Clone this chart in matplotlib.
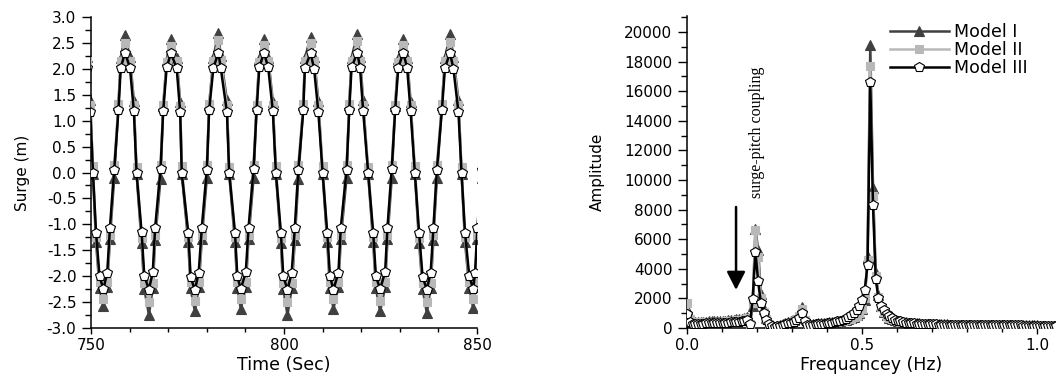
import numpy as np
import matplotlib
matplotlib.use("Agg")
import matplotlib.pyplot as plt
from matplotlib.ticker import MultipleLocator, FormatStrFormatter

plt.rcParams['font.family'] = ['DejaVu Sans']
plt.rcParams['axes.unicode_minus'] = False

# --- surge time history (sample times in s, one row per cycle) ---
surge_time = [
    749.0, 749.8,
    750.5, 751.3, 752.2, 753.2, 754.2, 754.9, 756.0, 757.1, 757.7, 758.8, 760.1, 761.1,
    761.8, 763.1, 763.8, 765.0, 766.0, 766.6, 768.0, 768.7, 769.6, 770.7, 772.2, 773.1,
    773.5, 775.2, 775.8, 776.9, 777.9, 778.7, 780.0, 780.6, 781.7, 783.0, 783.6, 785.2,
    785.8, 787.3, 787.9, 788.8, 790.1, 790.8, 792.1, 792.9, 793.6, 794.8, 795.9, 797.1,
    797.9, 799.2, 799.8, 800.9, 802.0, 802.8, 803.7, 805.0, 805.4, 806.9, 807.8, 808.9,
    810.0, 811.2, 811.9, 812.8, 814.1, 814.7, 816.2, 816.9, 817.5, 819.0, 819.7, 820.5,
    821.8, 823.1, 823.8, 824.9, 826.2, 826.8, 827.9, 828.8, 829.6, 830.9, 831.9, 832.8,
    833.9, 835.0, 835.9, 837.0, 838.0, 838.7, 839.6, 840.9, 841.7, 843.0, 843.9, 845.2,
    846.0, 846.9, 848.0, 849.0, 849.5, 850.1, 851.2,
]

surge_model1 = [
    2.22, 1.40,
    -0.02, -1.35, -2.22, -2.58, -2.20, -1.28, -0.10, 1.30, 2.20, 2.65, 2.22, 1.38,
    -0.03, -1.36, -2.24, -2.75, -2.22, -1.30, -0.12, 1.28, 2.18, 2.57, 2.20, 1.36,
    -0.02, -1.35, -2.23, -2.68, -2.21, -1.29, -0.10, 1.30, 2.21, 2.70, 2.24, 1.40,
    -0.03, -1.34, -2.22, -2.63, -2.20, -1.28, -0.11, 1.29, 2.19, 2.58, 2.21, 1.37,
    -0.02, -1.36, -2.24, -2.75, -2.23, -1.31, -0.12, 1.30, 2.20, 2.62, 2.22, 1.38,
    -0.02, -1.35, -2.22, -2.63, -2.21, -1.29, -0.10, 1.31, 2.21, 2.68, 2.23, 1.39,
    -0.03, -1.35, -2.23, -2.68, -2.21, -1.29, -0.11, 1.29, 2.19, 2.58, 2.20, 1.37,
    -0.02, -1.36, -2.24, -2.71, -2.22, -1.30, -0.10, 1.30, 2.20, 2.67, 2.23, 1.39,
    -0.03, -1.35, -2.22, -2.61, -2.20, -1.28, -0.10,
]

surge_model2 = [
    2.15, 1.30,
    0.12, -1.25, -2.12, -2.44, -2.12, -1.20, 0.15, 1.32, 2.15, 2.50, 2.16, 1.30,
    0.11, -1.26, -2.13, -2.50, -2.13, -1.21, 0.14, 1.31, 2.14, 2.45, 2.15, 1.29,
    0.12, -1.25, -2.12, -2.48, -2.12, -1.20, 0.15, 1.32, 2.16, 2.55, 2.17, 1.31,
    0.11, -1.25, -2.12, -2.45, -2.12, -1.20, 0.14, 1.31, 2.14, 2.46, 2.15, 1.30,
    0.12, -1.26, -2.13, -2.50, -2.13, -1.21, 0.15, 1.32, 2.15, 2.49, 2.16, 1.30,
    0.12, -1.25, -2.12, -2.45, -2.12, -1.20, 0.15, 1.32, 2.16, 2.53, 2.16, 1.31,
    0.11, -1.25, -2.12, -2.48, -2.12, -1.20, 0.14, 1.31, 2.14, 2.46, 2.15, 1.30,
    0.12, -1.26, -2.13, -2.49, -2.13, -1.21, 0.15, 1.32, 2.15, 2.52, 2.16, 1.31,
    0.11, -1.25, -2.12, -2.44, -2.12, -1.20, 0.15,
]

surge_model3 = [
    2.02, 1.17,
    0.00, -1.17, -2.00, -2.25, -1.93, -1.07, 0.05, 1.20, 2.02, 2.31, 2.02, 1.18,
    -0.01, -1.15, -1.99, -2.26, -1.92, -1.08, 0.06, 1.19, 2.03, 2.30, 2.01, 1.16,
    0.00, -1.17, -2.01, -2.27, -1.93, -1.07, 0.05, 1.20, 2.02, 2.31, 2.02, 1.17,
    0.00, -1.16, -2.00, -2.25, -1.92, -1.08, 0.06, 1.21, 2.03, 2.31, 2.03, 1.19,
    -0.01, -1.17, -2.00, -2.26, -1.93, -1.07, 0.05, 1.20, 2.02, 2.30, 2.00, 1.16,
    0.00, -1.17, -2.00, -2.26, -1.93, -1.08, 0.05, 1.20, 2.03, 2.31, 2.02, 1.19,
    0.00, -1.16, -2.00, -2.25, -1.92, -1.07, 0.06, 1.21, 2.02, 2.31, 2.02, 1.18,
    0.00, -1.17, -2.01, -2.26, -1.93, -1.08, 0.05, 1.20, 2.02, 2.31, 2.00, 1.16,
    -0.01, -1.17, -2.00, -2.25, -1.93, -1.07, 0.05,
]

# --- amplitude spectrum, bins of 1/128 Hz ---
freq_step = 1 / 128

fft_model1 = [
    1300, 520, 430, 420, 420, 425, 430, 435, 440, 450,
    455, 465, 475, 485, 500, 515, 530, 550, 575, 600,
    640, 690, 760, 200, 1500, 6700, 5300, 2300, 1250, 650,
    330, 150, 60, 110, 180, 250, 320, 390, 470, 560,
    700, 950, 1450, 650, 250, 220, 260, 290, 310, 330,
    350, 370, 390, 410, 430, 460, 490, 520, 560, 610,
    670, 750, 850, 1000, 1250, 1900, 4800, 19100, 9450, 3700,
    2200, 1500, 1100, 850, 700, 600, 530, 480, 440, 410,
    385, 365, 345, 330, 315, 305, 295, 285, 275, 268,
    262, 256, 250, 245, 240, 236, 232, 228, 224, 220,
    217, 214, 211, 208, 205, 203, 200, 198, 196, 194,
    192, 190, 188, 186, 185, 183, 182, 180, 179, 178,
    176, 175, 174, 173, 172, 171, 170, 169, 168, 167,
    166, 165, 164, 163, 162, 161,
]

fft_model2 = [
    1700, 600, 380, 370, 370, 375, 380, 385, 390, 395,
    400, 410, 420, 430, 440, 455, 470, 490, 510, 535,
    565, 600, 660, 250, 1700, 6650, 4800, 2000, 1100, 600,
    300, 140, 60, 100, 160, 220, 280, 340, 410, 490,
    600, 800, 1250, 560, 230, 200, 230, 260, 280, 300,
    320, 340, 360, 380, 400, 430, 460, 490, 530, 580,
    640, 720, 820, 980, 1250, 2000, 4600, 17700, 8900, 3500,
    2100, 1450, 1080, 840, 690, 590, 520, 470, 430, 400,
    375, 355, 335, 320, 305, 295, 285, 276, 268, 260,
    254, 248, 243, 238, 234, 230, 226, 222, 218, 215,
    212, 209, 206, 203, 200, 198, 196, 194, 192, 190,
    188, 186, 184, 183, 181, 180, 178, 177, 176, 175,
    173, 172, 171, 170, 169, 168, 167, 166, 165, 164,
    163, 162, 161, 160, 159, 158,
]

fft_model3 = [
    950, 420, 300, 290, 290, 295, 300, 305, 310, 315,
    320, 325, 335, 345, 355, 365, 380, 395, 410, 430,
    455, 480, 520, 260, 1950, 5150, 3150, 1700, 1000, 550,
    300, 150, 80, 110, 160, 210, 260, 310, 370, 430,
    520, 700, 1000, 500, 220, 190, 220, 240, 260, 280,
    300, 320, 345, 370, 400, 440, 490, 550, 630, 740,
    850, 1000, 1200, 1500, 1900, 2600, 4250, 16600, 8300, 3300,
    2000, 1500, 1200, 950, 800, 650, 560, 490, 440, 400,
    370, 345, 325, 308, 295, 283, 272, 263, 255, 248,
    242, 236, 231, 226, 222, 218, 214, 211, 208, 205,
    202, 199, 197, 195, 193, 191, 189, 187, 185, 183,
    182, 180, 179, 177, 176, 175, 174, 173, 172, 171,
    170, 169, 168, 167, 166, 165, 164, 163, 162, 161,
    160, 159, 158, 157, 156, 155,
]

labels = ['Model I', 'Model II', 'Model III']

# style for each model: (line colour, marker, face colour, edge colour, size)
styles = [
    ('#404040', '^', '#404040', '#404040', 7.5),
    ('#b8b8b8', 's', '#b8b8b8', '#b8b8b8', 5.5),
    ('#000000', 'p', 'white', '#000000', 7.5),
]


def style_axes(ax):
    ax.spines['top'].set_visible(False)
    ax.spines['right'].set_visible(False)
    for side in ('left', 'bottom'):
        ax.spines[side].set_linewidth(1.1)
    ax.tick_params(which='major', direction='out', width=1, labelsize=11)
    ax.tick_params(which='minor', direction='out', width=1)
    ax.tick_params(axis='y', which='major', length=6.5, pad=4)
    ax.tick_params(axis='y', which='minor', length=4)
    ax.tick_params(axis='x', which='major', length=4, pad=3)
    ax.tick_params(axis='x', which='minor', length=3)


fig = plt.figure(figsize=(10.56, 3.76), dpi=100)

# left panel: time history
ax1 = fig.add_axes([0.0862, 0.1277, 0.3655, 0.827])
series = [surge_model1, surge_model2, surge_model3]
# draw Model II first so the dark triangles and white pentagons sit above
for idx in (1, 0, 2):
    col, mk, fc, ec, ms = styles[idx]
    ax1.plot(surge_time, series[idx], color=col, lw=1.8, marker=mk, ms=ms,
             mfc=fc, mec=ec, mew=0.8, zorder=2 + idx)
ax1.set_xlim(750, 850)
ax1.set_ylim(-3.0, 3.0)
ax1.xaxis.set_major_locator(MultipleLocator(50))
ax1.xaxis.set_minor_locator(MultipleLocator(10))
ax1.yaxis.set_major_locator(MultipleLocator(0.5))
ax1.yaxis.set_minor_locator(MultipleLocator(0.25))
ax1.yaxis.set_major_formatter(FormatStrFormatter('%.1f'))
style_axes(ax1)
ax1.set_xlabel('Time (Sec)', fontsize=12.5, labelpad=2.5)
ax1.set_ylabel('Surge (m)', fontsize=11, labelpad=12)

# right panel: amplitude spectrum
ax2 = fig.add_axes([0.6506, 0.1277, 0.3494, 0.8298])
freq = np.arange(len(fft_model1)) * freq_step
spectra = [fft_model1, fft_model2, fft_model3]
handles = [None, None, None]
for idx in (1, 0, 2):
    col, mk, fc, ec, ms = styles[idx]
    line, = ax2.plot(freq, spectra[idx], color=col, lw=1.8, marker=mk, ms=ms,
                     mfc=fc, mec=ec, mew=0.8, zorder=2 + idx, label=labels[idx])
    handles[idx] = line
ax2.set_xlim(0, 1.054)
ax2.set_ylim(0, 21080)
ax2.xaxis.set_major_locator(MultipleLocator(0.5))
ax2.xaxis.set_minor_locator(MultipleLocator(0.1))
ax2.xaxis.set_major_formatter(FormatStrFormatter('%.1f'))
ax2.yaxis.set_major_locator(MultipleLocator(2000))
ax2.yaxis.set_minor_locator(MultipleLocator(1000))
style_axes(ax2)
ax2.set_xlabel('Frequancey (Hz)', fontsize=12.5, labelpad=2.5)
ax2.set_ylabel('Amplitude', fontsize=11, labelpad=14)

ax2.legend(handles=handles, loc='upper left', bbox_to_anchor=(0.53, 1.0),
           frameon=False, fontsize=12.5, numpoints=1, handlelength=3.4,
           handletextpad=0.3, labelspacing=0.0, borderaxespad=0)

ax2.annotate('', xy=(0.14, 2570), xytext=(0.14, 8175),
             arrowprops=dict(arrowstyle='-|>,head_width=0.28,head_length=0.55',
                             lw=1.8, color='black', mutation_scale=20,
                             shrinkA=0, shrinkB=0))
ax2.text(0.2, 13240, 'surge-pitch coupling', rotation=90, ha='center',
         va='center', fontsize=11.5, family=['Liberation Serif', 'DejaVu Serif'])

fig.savefig('out.png', dpi=100)
